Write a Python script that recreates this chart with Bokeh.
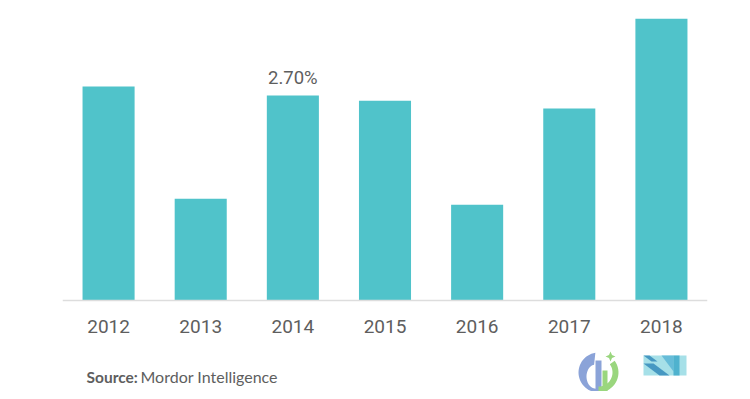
import numpy as np
from bokeh.plotting import figure
from bokeh.models import ColumnDataSource, Range1d, Label, PolyAnnotation
from bokeh.core.properties import value
from bokeh.embed import file_html
from bokeh.resources import INLINE

years = ["2012", "2013", "2014", "2015", "2016", "2017", "2018"]
growth = [2.82, 1.34, 2.70, 2.63, 1.26, 2.53, 3.71]
label_years = ["2014"]
label_texts = ["2.70%"]
label_vals = [2.70]

BAR = "#50C3CA"
TXT = "#5e5e5e"
FONT = "Roboto"
W, H = 742, 391
L = 62  # frame left on page

p = figure(x_range=years, y_range=Range1d(-1.1985, 3.951), width=W, height=H,
           output_backend="svg", toolbar_location=None,
           min_border_left=L, min_border_right=35, min_border_top=0, min_border_bottom=0)
p.outline_line_color = None
p.background_fill_color = "white"
p.border_fill_color = "white"
p.xgrid.grid_line_color = None
p.ygrid.grid_line_color = None
p.yaxis.visible = False
p.x_range.range_padding = 0

src = ColumnDataSource(dict(x=years, top=growth))
p.vbar(x="x", top="top", width=0.565, source=src, fill_color=BAR, line_color=None)

lsrc = ColumnDataSource(dict(x=label_years, y=label_vals, t=label_texts))
p.text(x="x", y="y", text="t", source=lsrc, text_align="center", text_baseline="middle",
       y_offset=-17, text_font=value(FONT), text_font_size="18.5px", text_color=TXT)

ax = p.xaxis[0]
ax.fixed_location = 0
ax.axis_line_color = "#dddddd"
ax.axis_line_width = 1.5
ax.major_tick_line_color = None
ax.minor_tick_line_color = None
ax.major_label_text_font = FONT
ax.major_label_text_font_size = "19px"
ax.major_label_text_color = TXT
ax.major_label_standoff = 14

# footer (screen units measured from frame bottom-left)
p.add_layout(Label(x=86 - L, y=H - 376, x_units="screen", y_units="screen", text="Source:",
                   text_font="Lato", text_font_style="bold", text_font_size="15.5px",
                   text_color=TXT, text_baseline="middle"))
p.add_layout(Label(x=140 - L, y=H - 376, x_units="screen", y_units="screen", text="Mordor Intelligence",
                   text_font="Lato", text_font_size="16px",
                   text_color=TXT, text_baseline="middle"))

# decorative logos (approximate)
def P(xs, ys, color, alpha=1.0):
    p.add_layout(PolyAnnotation(xs=list(np.asarray(xs) - L), ys=list(ys), xs_units="screen",
                                ys_units="screen", fill_color=color, fill_alpha=alpha, line_color=None))

cx, cy, r = 598, H - 372, 20
a = np.linspace(np.pi * 0.55, np.pi * 1.5, 30)
ai = a[::-1]
P(list(cx + r * np.cos(a)) + list(cx - 3 + 9 * np.cos(ai)),
  list(cy + r * np.sin(a)) + list(cy - 4 + 12 * np.sin(ai)), "#8BA3D8")
P([cx - 3, cx + 3, cx + 3, cx - 3], [cy - 20, cy - 20, cy + 12, cy + 12], "#8BA3D8")
g = np.linspace(-np.pi * 0.5, np.pi * 0.2, 20)
P(list(cx + r * np.cos(g)) + list(cx + (r - 6) * np.cos(g[::-1])),
  list(cy + r * np.sin(g)) + list(cy + (r - 6) * np.sin(g[::-1])), "#9AD67E")
P([cx + 4, cx + 9, cx + 9, cx + 4], [cy - 20, cy - 19, cy + 2, cy + 2], "#9AD67E")
sx, sy = cx + 12, cy + 16
P([sx, sx + 1.5, sx + 5, sx + 1.5, sx, sx - 1.5, sx - 5, sx - 1.5],
  [sy + 5, sy + 1.5, sy, sy - 1.5, sy - 5, sy - 1.5, sy, sy + 1.5], "#9AD67E")
mx0, my0 = 643, H - 375
P([mx0, mx0 + 43, mx0 + 43, mx0], [my0, my0, my0 + 20, my0 + 20], "#A6E0E8")
P([mx0, mx0 + 10, mx0 + 26, mx0 + 16], [my0 + 12, my0 + 12, my0, my0], "#2E86B8", 0.8)
P([mx0, mx0 + 6, mx0 + 14, mx0 + 8], [my0 + 20, my0 + 20, my0 + 14, my0 + 14], "#2E86B8", 0.8)
P([mx0 + 18, mx0 + 30, mx0 + 30], [my0 + 20, my0 + 20, my0 + 4], "#5FB8D6", 0.9)
P([mx0 + 30, mx0 + 36, mx0 + 36, mx0 + 30], [my0, my0, my0 + 20, my0 + 20], "#3FA9C9", 0.85)

open("out.html", "w").write(file_html(p, INLINE))
